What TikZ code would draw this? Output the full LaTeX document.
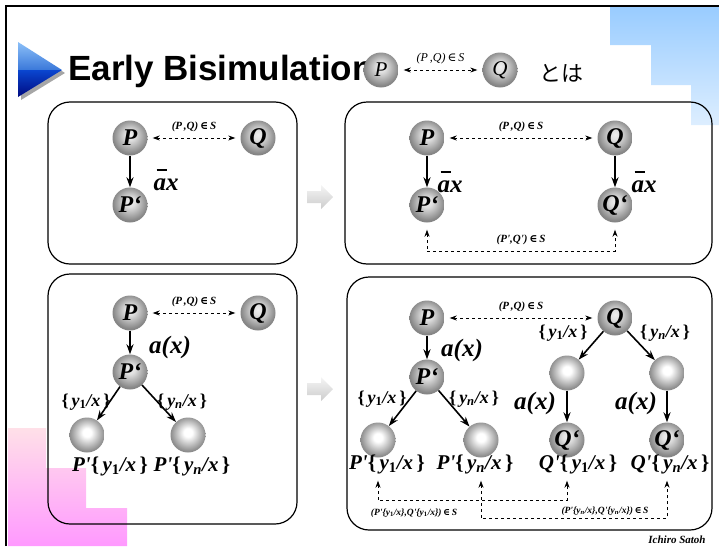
\documentclass[tikz,border=0pt]{standalone}
\usepackage{fontspec}
\setmainfont{Liberation Serif}
\newfontfamily\titlefont{Liberation Sans}
\newfontfamily\cjkfont{Noto Sans CJK JP}
\newfontfamily\symfont{DejaVu Serif}
\usetikzlibrary{arrows.meta}
\definecolor{BlueTop}{HTML}{99CCFF}
\definecolor{BlueBot}{HTML}{DDEEFF}
\definecolor{PinkTop}{HTML}{FFE0E8}
\definecolor{PinkBot}{HTML}{FF99FF}
\definecolor{TriLight}{HTML}{8CC0F8}
\definecolor{TriMid}{HTML}{3A78DA}
\definecolor{TriDark}{HTML}{0A46D0}
\definecolor{TriDeep}{HTML}{000A80}
\pgfdeclareradialshading{sphere}{\pgfpoint{0bp}{5bp}}{color(0bp)=(black!6); color(7bp)=(black!12); color(25bp)=(black!48); color(50bp)=(black!48)}
\pgfdeclareradialshading{spherew}{\pgfpoint{0bp}{4bp}}{color(0bp)=(white); color(6bp)=(white); color(25bp)=(black!45); color(50bp)=(black!45)}
\newcommand{\inS}{\,{\symfont\bfseries\upshape\char"2208}\,S}
\newcommand{\subst}[1]{{\upshape\{}\,y\textsubscript{#1}/x\,{\upshape\}}}
\newcommand{\pr}{\textquotesingle}
\newcommand{\ax}{\rlap{\hspace{0.12em}\raisebox{0.78em}{\rule{0.4em}{0.055em}}}ax}

\begin{document}
\begin{tikzpicture}[x=1pt, y=-1pt]
    \tikzstyle{ball}=[circle, minimum size=35pt, inner sep=0pt, shading=sphere, font=\bfseries\itshape\fontsize{24}{24}\selectfont]
    \tikzstyle{blank}=[ball, shading=spherew]
    \tikzstyle{frame}=[draw, line width=1.2pt, rounded corners=22pt]
    \tikzstyle{rel}=[{Stealth[length=7pt,width=5pt]}-{Stealth[length=7pt,width=5pt]}, dashed, line width=0.8pt, shorten <=5pt, shorten >=5pt]
    \tikzstyle{sim}=[{Stealth[length=7pt,width=5pt]}-{Stealth[length=7pt,width=5pt]}, dashed, line width=0.8pt]
    \tikzstyle{trans}=[-{Stealth[length=10pt,width=7pt]}, line width=1.6pt]
    \tikzstyle{act}=[inner sep=1pt, font=\bfseries\itshape\fontsize{25}{25}\selectfont]
    \tikzstyle{sub}=[inner sep=1pt, font=\bfseries\itshape\fontsize{18}{18}\selectfont]
    \tikzstyle{res}=[inner sep=1pt, font=\bfseries\itshape\fontsize{21}{21}\selectfont]
    \tikzstyle{pair}=[inner sep=1pt, font=\bfseries\itshape\fontsize{11}{11}\selectfont]
    \tikzstyle{tiny}=[inner sep=1pt, font=\bfseries\itshape\fontsize{9.5}{9.5}\selectfont]
    \useasboundingbox (0,0) rectangle (719,546);
    % background steps
    \shade[top color=BlueTop, bottom color=BlueBot] (610,7) -- (719,7) -- (719,125) -- (691,125) -- (691,85) -- (651,85) -- (651,45) -- (610,45) -- cycle;
    \shade[top color=PinkTop, bottom color=PinkBot] (8,428) -- (46,428) -- (46,468) -- (86,468) -- (86,508) -- (127,508) -- (127,546) -- (8,546) -- cycle;
    \draw[line width=2.5pt] (6,546) -- (6,6) -- (719,6);
    % title
    \fill[black!35] (21,45) -- (65,73) -- (21,100) -- cycle;
    \shade[top color=TriLight, bottom color=TriMid] (18,42) -- (62,70) -- (18,70) -- cycle;
    \shade[top color=TriDark, bottom color=TriDeep] (18,70) -- (62,70) -- (18,97) -- cycle;
    \node[anchor=base west, inner sep=0pt, font=\titlefont\bfseries\fontsize{35}{35}\selectfont] (title) at (68,80) {Early Bisimulation};
    \node[ball, font=\itshape\fontsize{21}{21}\selectfont] (tiP) at (381,70) {P};
    \node[ball, font=\itshape\fontsize{21}{21}\selectfont] (tiQ) at (500,70) {Q};
    \draw[rel, line width=0.7pt] (tiP) -- node[pair, font=\itshape\fontsize{12}{12}\selectfont, above=5pt] {(P\,,Q)\,{\symfont\char"2208}\,S} (tiQ);
    \node[anchor=west, inner sep=0pt, font=\cjkfont\fontsize{22}{22}\selectfont] (toha) at (539,73) {とは};
    % boxes
    \draw[frame] (48,102) rectangle (297,264);
    \draw[frame] (345,102) rectangle (712,264);
    \draw[frame] (48,274) rectangle (297,524);
    \draw[frame] (347,277) rectangle (712,530);
    \foreach \y in {197,389}
      \shade[top color=gray!8, bottom color=gray!40] (307,\y-6) -- (321,\y-6) -- (321,\y-12) -- (333,\y) -- (321,\y+12) -- (321,\y+6) -- (307,\y+6) -- cycle;
    % top left
    \node[ball] (aP) at (130,138) {P};
    \node[ball] (aQ) at (258,138) {Q};
    \node[ball] (aP1) at (130,205) {P‘};
    \draw[rel] (aP) -- node[pair, above=5pt] {(P\,,Q)\inS} (aQ);
    \draw[trans] (aP) -- (aP1);
    \node[act] (aAct) at (166,180) {\ax};
    % top right
    \node[ball] (bP) at (427,138) {P};
    \node[ball] (bQ) at (615,138) {Q};
    \node[ball] (bP1) at (427,205) {P‘};
    \node[ball] (bQ1) at (615,205) {Q‘};
    \draw[rel] (bP) -- node[pair, above=5pt] {(P\,,Q)\inS} (bQ);
    \draw[trans] (bP) -- (bP1);
    \draw[trans] (bQ) -- (bQ1);
    \node[act] (bActP) at (450,182) {\ax};
    \node[act] (bActQ) at (644,182) {\ax};
    \draw[sim] ([yshift=-7pt]bP1.south) -- ++(0,22) -| ([yshift=-7pt]bQ1.south);
    \node[pair] (bRel) at (521,240) {(P\pr,Q\pr)\inS};
    % bottom left
    \node[ball] (cP) at (130,313) {P};
    \node[ball] (cQ) at (258,313) {Q};
    \node[ball] (cP1) at (130,372) {P‘};
    \node[blank] (cL) at (87,435) {};
    \node[blank] (cR) at (188,435) {};
    \draw[rel] (cP) -- node[pair, above=5pt] {(P\,,Q)\inS} (cQ);
    \draw[trans] (cP) -- (cP1);
    \node[act] (cAct) at (170,347) {a(x)};
    \draw[trans] (cP1) -- (cL);
    \draw[trans] (cP1) -- (cR);
    \node[sub] (cSL) at (86,402) {\subst{\upshape 1}};
    \node[sub] (cSR) at (182,402) {\subst{n}};
    \node[res] (cRL) at (110,466) {P\pr\subst{\upshape 1}};
    \node[res] (cRR) at (192,466) {P\pr\subst{n}};
    % bottom right
    \node[ball] (dP) at (427,318) {P};
    \node[ball] (dQ) at (615,318) {Q};
    \node[ball] (dP1) at (427,377) {P‘};
    \node[blank] (dPL) at (378,440) {};
    \node[blank] (dPR) at (481,440) {};
    \node[blank] (dQL) at (567,373) {};
    \node[blank] (dQR) at (667,373) {};
    \node[ball] (dQ1) at (567,440) {Q‘};
    \node[ball] (dQ2) at (667,440) {Q‘};
    \draw[rel] (dP) -- node[pair, above=5pt] {(P\,,Q)\inS} (dQ);
    \draw[trans] (dP) -- (dP1);
    \node[act] (dAct) at (462,350) {a(x)};
    \draw[trans] (dP1) -- (dPL);
    \draw[trans] (dP1) -- (dPR);
    \node[sub] (dSL) at (382,399) {\subst{\upshape 1}};
    \node[sub] (dSR) at (474,399) {\subst{n}};
    \draw[trans] (dQ) -- (dQL);
    \draw[trans] (dQ) -- (dQR);
    \node[sub] (dSQL) at (563,333) {\subst{\upshape 1}};
    \node[sub] (dSQR) at (665,333) {\subst{n}};
    \draw[trans] (dQL) -- (dQ1);
    \draw[trans] (dQR) -- (dQ2);
    \node[act] (dActL) at (535,403) {a(x)};
    \node[act] (dActR) at (636,403) {a(x)};
    \node[res] (dRL) at (387,464) {P\pr\subst{\upshape 1}};
    \node[res] (dRR) at (475,464) {P\pr\subst{n}};
    \node[res] (dRQL) at (578,464) {Q\pr\subst{\upshape 1}};
    \node[res] (dRQR) at (670,464) {Q\pr\subst{n}};
    \draw[sim] ([yshift=-23pt]dPL.south) -- ++(0,20) -| ([yshift=-23pt]dQ1.south);
    \draw[sim] ([yshift=-23pt]dPR.south) -- ++(0,38) -| ([yshift=-23pt]dQ2.south);
    \node[tiny] (dRel1) at (414,513) {(P\pr\{y\textsubscript{\upshape 1}/x\},Q\pr\{y\textsubscript{\upshape 1}/x\})\inS};
    \node[tiny] (dRel2) at (605,511) {(P\pr\{y\textsubscript{n}/x\},Q\pr\{y\textsubscript{n}/x\})\inS};
    \node[pair] (author) at (677,540) {Ichiro Satoh};
  \end{tikzpicture}
\end{document}
